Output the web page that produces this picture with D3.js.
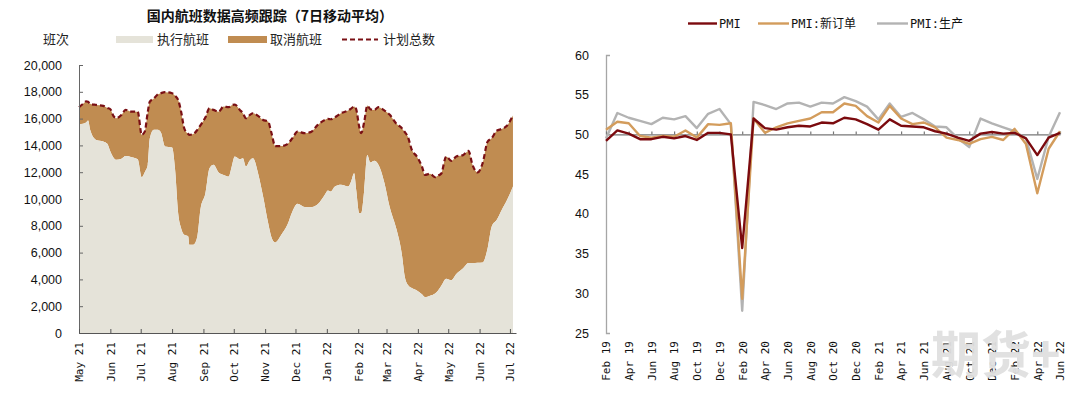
<!DOCTYPE html>
<html><head><meta charset="utf-8">
<script src="https://cdn.jsdelivr.net/npm/d3@7"></script>
<style>body{margin:0;background:#fff} svg{display:block}</style>
</head><body><svg id="c" width="1080" height="398"></svg>
<script>
// ---------- Left chart data (7-day moving average of domestic flights) ----------
const flightDates = ["2021-05-01","2021-05-05","2021-05-08","2021-05-10","2021-05-12","2021-05-18","2021-05-25","2021-05-29","2021-06-01","2021-06-04","2021-06-07","2021-06-12","2021-06-16","2021-06-22","2021-06-28","2021-07-02","2021-07-05","2021-07-08","2021-07-10","2021-07-14","2021-07-18","2021-07-21","2021-07-25","2021-08-01","2021-08-04","2021-08-07","2021-08-10","2021-08-13","2021-08-17","2021-08-18","2021-08-22","2021-08-26","2021-08-29","2021-09-03","2021-09-07","2021-09-11","2021-09-16","2021-09-21","2021-09-26","2021-09-29","2021-10-02","2021-10-07","2021-10-10","2021-10-13","2021-10-17","2021-10-20","2021-10-25","2021-10-30","2021-11-04","2021-11-07","2021-11-11","2021-11-17","2021-11-23","2021-11-28","2021-12-03","2021-12-10","2021-12-16","2021-12-23","2021-12-30","2022-01-02","2022-01-05","2022-01-09","2022-01-15","2022-01-22","2022-01-25","2022-01-28","2022-01-30","2022-02-02","2022-02-04","2022-02-07","2022-02-10","2022-02-13","2022-02-17","2022-02-21","2022-02-27","2022-03-04","2022-03-11","2022-03-16","2022-03-19","2022-03-22","2022-03-26","2022-03-31","2022-04-05","2022-04-08","2022-04-13","2022-04-18","2022-04-21","2022-04-24","2022-04-29","2022-05-04","2022-05-09","2022-05-16","2022-05-21","2022-05-25","2022-05-30","2022-06-04","2022-06-09","2022-06-13","2022-06-18","2022-06-23","2022-06-28","2022-07-04"];
const plannedFlights = [16850,17100,17280,17250,17100,17020,16950,16800,16700,16200,16030,16280,16650,16520,16520,14790,15030,16500,17270,17500,17820,17900,17970,17890,17700,17400,16500,15280,14850,14790,14850,15160,15500,16100,16770,16650,16520,16900,16850,17000,17050,16650,16400,16030,16280,16400,16200,15900,15780,15000,13950,13950,14100,14540,15030,14910,14990,15530,15900,15980,15950,16100,16400,16600,16750,16900,16700,15400,14910,15780,16970,16700,16650,16850,16600,16300,15600,15300,15000,14660,13670,13170,12430,11800,11880,11630,11750,11880,13170,12850,13170,13290,13590,12550,11980,12670,14290,14540,15100,15230,15460,16230];
const executedFlights = [15600,15620,15700,15850,15160,14410,14290,14115,13540,13100,12920,13000,13200,13120,12970,11630,12000,12550,14540,15160,15160,14960,13920,13840,12180,8950,7800,7330,7210,6590,6590,7210,9190,10440,12300,12550,11980,11800,11680,12430,13170,12970,13050,12430,12900,13050,11930,10190,8200,7210,6760,7330,8080,9070,9640,9400,9380,9600,10310,10640,10560,10930,11060,10930,11310,11930,10690,8950,8950,10690,13290,12720,12850,12550,11180,9440,7700,5960,4220,3600,3350,3180,2900,2680,2780,2950,3180,3500,4050,3930,4400,4850,5220,5220,5250,5270,6340,7950,8450,9200,9900,10930];
const flightTickLabels = ["May 21","Jun 21","Jul 21","Aug 21","Sep 21","Oct 21","Nov 21","Dec 21","Jan 22","Feb 22","Mar 22","Apr 22","May 22","Jun 22","Jul 22"];
const flightYTicks = [0,2000,4000,6000,8000,10000,12000,14000,16000,18000,20000];
const flightLegend = ["执行航班","取消航班","计划总数"];

// ---------- Right chart data (PMI) ----------
const pmiMonths = ["Feb 19","Mar 19","Apr 19","May 19","Jun 19","Jul 19","Aug 19","Sep 19","Oct 19","Nov 19","Dec 19","Jan 20","Feb 20","Mar 20","Apr 20","May 20","Jun 20","Jul 20","Aug 20","Sep 20","Oct 20","Nov 20","Dec 20","Jan 21","Feb 21","Mar 21","Apr 21","May 21","Jun 21","Jul 21","Aug 21","Sep 21","Oct 21","Nov 21","Dec 21","Jan 22","Feb 22","Mar 22","Apr 22","May 22","Jun 22"];
const pmi =        [49.2,50.5,50.1,49.4,49.4,49.7,49.5,49.8,49.3,50.2,50.2,50.0,35.7,52.0,50.8,50.6,50.9,51.1,51.0,51.5,51.4,52.1,51.9,51.3,50.6,51.9,51.1,51.0,50.9,50.4,50.1,49.6,49.2,50.1,50.3,50.1,50.2,49.5,47.4,49.6,50.2];
const pmiNewOrders=[50.6,51.6,51.4,49.8,49.6,49.8,49.7,50.5,49.6,51.3,51.2,51.4,29.3,52.0,50.2,50.9,51.4,51.7,52.0,52.8,52.8,53.9,53.6,52.3,51.5,53.6,52.0,51.3,51.5,50.9,49.6,49.3,48.8,49.4,49.7,49.3,50.7,48.8,42.6,48.2,50.4];
const pmiProduction=[49.5,52.7,52.1,51.7,51.3,52.1,51.9,52.3,50.8,52.6,53.2,51.3,27.8,54.1,53.7,53.2,53.9,54.0,53.5,54.0,53.9,54.7,54.2,53.5,51.9,53.9,52.2,52.7,51.9,51.0,50.9,49.5,48.4,52.0,51.4,50.9,50.4,49.5,44.4,49.7,52.8];
const pmiTickLabels = ["Feb 19","Apr 19","Jun 19","Aug 19","Oct 19","Dec 19","Feb 20","Apr 20","Jun 20","Aug 20","Oct 20","Dec 20","Feb 21","Apr 21","Jun 21","Aug 21","Oct 21","Dec 21","Feb 22","Apr 22","Jun 22"];
const pmiYTicks = [25,30,35,40,45,50,55,60];
const pmiSeriesNames = ["PMI","PMI:新订单","PMI:生产"];

const svg = d3.select("#c");
const CJK = "'Noto Sans CJK SC', 'Noto Sans', sans-serif";
const MONO = "'DejaVu Sans Mono', 'Noto Sans CJK SC', monospace";
const SANS = "'Liberation Sans', Arial, sans-serif";

// ================= LEFT CHART =================
const parseD = d3.timeParse("%Y-%m-%d");
const parseM = d3.timeParse("%b %y");
const fData = flightDates.map((d,i)=>({date:parseD(d), exe:executedFlights[i], plan:plannedFlights[i]}));
const xL = d3.scaleTime().domain([parseD("2021-05-01"), parseD("2022-07-07")]).range([79, 516]);
const yL = d3.scaleLinear().domain([0,20000]).range([333,65]);

const L = svg.append("g");
const curve = d3.curveMonotoneX;
L.append("path").datum(fData)
  .attr("d", d3.area().curve(curve).x(d=>xL(d.date)).y0(d=>yL(d.exe)).y1(d=>yL(d.plan)))
  .attr("fill","#C08C51");
L.append("path").datum(fData)
  .attr("d", d3.area().curve(curve).x(d=>xL(d.date)).y0(yL(0)).y1(d=>yL(d.exe)))
  .attr("fill","#E5E3D9");
L.append("path").datum(fData)
  .attr("d", d3.line().curve(curve).x(d=>xL(d.date)).y(d=>yL(d.plan)))
  .attr("fill","none").attr("stroke","#7A1015").attr("stroke-width",2.2).attr("stroke-dasharray","5,3");

// y axis
const yAxL = L.append("g").attr("transform","translate(79,0)")
  .call(d3.axisLeft(yL).tickValues(flightYTicks).tickFormat(d3.format(",")).tickSizeInner(-4).tickSizeOuter(0).tickPadding(17));
yAxL.selectAll("path,line").attr("stroke","#666");
yAxL.selectAll("text").attr("font-family",SANS).attr("font-size",12.5).attr("fill","#111");

// x axis
const xAxL = L.append("g").attr("transform","translate(0,333)")
  .call(d3.axisBottom(xL).tickValues(flightTickLabels.map(parseM)).tickFormat(d3.timeFormat("%b %y")).tickSizeInner(-4).tickSizeOuter(0));
xAxL.selectAll("path,line").attr("stroke","#555");
xAxL.selectAll("text").attr("transform","rotate(-90)").attr("text-anchor","end")
  .attr("x",-9).attr("y",0).attr("dy","0.35em")
  .attr("font-family",MONO).attr("font-size",11).attr("fill","#111");

// title
L.append("text").attr("x",270).attr("y",21).attr("text-anchor","middle")
  .attr("font-family",CJK).attr("font-weight","bold").attr("font-size",14).attr("fill","#111")
  .text("国内航班数据高频跟踪（7日移动平均）");
// legend
const lg = L.append("g").attr("font-family",CJK).attr("font-size",13).attr("fill","#222");
lg.append("text").attr("x",43).attr("y",44).text("班次");
lg.append("rect").attr("x",116).attr("y",36).attr("width",37).attr("height",7).attr("fill","#E5E3D9");
lg.append("text").attr("x",157).attr("y",44).text(flightLegend[0]);
lg.append("rect").attr("x",228).attr("y",36).attr("width",39).attr("height",7).attr("fill","#C08C51");
lg.append("text").attr("x",270).attr("y",44).text(flightLegend[1]);
lg.append("line").attr("x1",342).attr("x2",378).attr("y1",39.5).attr("y2",39.5)
  .attr("stroke","#7A1015").attr("stroke-width",2).attr("stroke-dasharray","5,3");
lg.append("text").attr("x",383).attr("y",44).text(flightLegend[2]);

// ================= RIGHT CHART =================
const xR = d3.scalePoint().domain(pmiMonths).range([606,1060]);
const yR = d3.scaleLinear().domain([25,60]).range([333,55]);
const R = svg.append("g");

// y axis
const yAxR = R.append("g").attr("transform","translate(606,0)")
  .call(d3.axisLeft(yR).tickValues(pmiYTicks).tickSizeInner(0).tickSizeOuter(-4).tickPadding(17));
yAxR.select(".domain").attr("stroke","#A6A6A6").attr("stroke-width",1.3);
yAxR.selectAll("line").remove();
yAxR.selectAll("text").attr("font-family",SANS).attr("font-size",12.5).attr("fill","#111");

// x axis line at 50
const xAxR = R.append("g").attr("transform",`translate(0,${yR(50)})`)
  .call(d3.axisBottom(xR).tickValues(pmiTickLabels).tickFormat("").tickSizeInner(-3).tickSizeOuter(0));
xAxR.selectAll("path,line").attr("stroke","#777").attr("stroke-width",1.2);

// bottom labels
const xLabR = R.append("g").attr("transform","translate(0,333)")
  .call(d3.axisBottom(xR).tickValues(pmiTickLabels).tickSize(0));
xLabR.select(".domain").remove();
xLabR.selectAll("text").attr("transform","rotate(-90)").attr("text-anchor","end")
  .attr("x",-8).attr("y",0).attr("dy","0.35em")
  .attr("font-family",MONO).attr("font-size",11).attr("fill","#111");

const series = [
  {name:pmiSeriesNames[2], vals:pmiProduction, color:"#B3B3B3"},
  {name:pmiSeriesNames[1], vals:pmiNewOrders, color:"#D39C5C"},
  {name:pmiSeriesNames[0], vals:pmi, color:"#7B0A0E"}
];
const lineR = d3.line().x((d,i)=>xR(pmiMonths[i])).y(d=>yR(d));
series.forEach(s=>{
  R.append("path").datum(s.vals).attr("d",lineR).attr("fill","none")
    .attr("stroke",s.color).attr("stroke-width",2.4).attr("stroke-linejoin","round");
});

// legend
const rl = R.append("g").attr("font-family",MONO).attr("font-size",12).attr("fill","#111");
const legPos = [{x1:688,x2:717,tx:719,s:series[2]},{x1:758,x2:789,tx:791,s:series[1]},{x1:877,x2:908,tx:910,s:series[0]}];
legPos.forEach(p=>{
  rl.append("line").attr("x1",p.x1).attr("x2",p.x2).attr("y1",23.5).attr("y2",23.5)
    .attr("stroke",p.s.color).attr("stroke-width",2.4);
  rl.append("text").attr("x",p.tx).attr("y",28).text(p.s.name);
});

// watermark
svg.append("text").attr("x",931).attr("y",373)
  .attr("font-family",CJK).attr("font-weight","bold").attr("font-size",50)
  .attr("fill","#E0E0E0").attr("opacity",0.95).text("期货+");
</script></body></html>
